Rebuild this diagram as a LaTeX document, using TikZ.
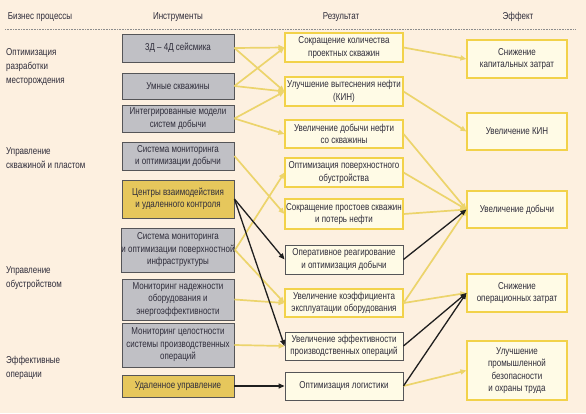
\documentclass[tikz,border=0pt]{standalone}
\usepackage{fontspec}
\setmainfont{Liberation Sans}[FakeStretch=0.8]
\usetikzlibrary{arrows.meta}
\definecolor{bgpeach}{HTML}{FDF0E0}
\definecolor{toolgray}{HTML}{C0C0C5}
\definecolor{toolgold}{HTML}{E6C75C}
\definecolor{toolline}{HTML}{555558}
\definecolor{rescream}{HTML}{FFFBE6}
\definecolor{resline}{HTML}{F2D24A}
\definecolor{arrowgold}{HTML}{ECD46C}
\definecolor{txt}{HTML}{2E2C3A}
\tikzset{
	tool/.style={draw=toolline, fill=toolgray, line width=0.9pt, minimum width=112pt, inner xsep=0pt, inner ysep=1pt, align=center, text=txt},
	toolhot/.style={tool, fill=toolgold},
	result/.style={draw=resline, fill=rescream, line width=1.1pt, minimum width=118pt, inner xsep=0pt, inner ysep=1pt, align=center, text=txt},
	resultdark/.style={result, draw=toolline, line width=0.9pt},
	effect/.style={result, minimum width=100pt},
	process/.style={anchor=west, align=left, text=txt, inner sep=0pt, font=\fontsize{10}{14}\selectfont},
	head/.style={text=txt, inner sep=0pt},
	yarr/.style={-{Triangle[length=6pt,width=5pt]}, draw=arrowgold, line width=1.7pt},
	barr/.style={-{Triangle[length=6pt,width=5pt]}, draw=black!88, line width=1.3pt}
}
\begin{document}
\begin{tikzpicture}[x=1pt, y=-1pt, font=\fontsize{10}{12.5}\selectfont]
	\fill[bgpeach] (0,0) rectangle (586,413);
	\useasboundingbox (0,0) rectangle (586,413);
	%headers
	\node[head] (hproc) at (40, 17) {Бизнес процессы};
	\node[head] (htool) at (178, 17) {Инструменты};
	\node[head] (hres) at (341, 17) {Результат};
	\node[head] (heff) at (518, 17) {Эффект};
	\draw[densely dotted, line width=0.6pt, black!45] (5, 29)--(575, 29);
	%business processes
	\node[process] (p1) at (6, 67) {Оптимизация\\разработки\\месторождения};
	\node[process] (p2) at (6, 158.5) {Управление\\скважиной и пластом};
	\node[process] (p3) at (6, 278.5) {Управление\\обустройством};
	\node[process] (p4) at (6, 367.5) {Эффективные\\операции};
	%tools
	\node[tool, minimum height=28pt] (t1) at (178, 48) {3Д – 4Д сейсмика};
	\node[tool, minimum height=26pt] (t2) at (178, 86) {Умные скважины};
	\node[tool, minimum height=27pt] (t3) at (178, 118.5) {Интегрированные модели\\систем добычи};
	\node[tool, minimum height=28pt] (t4) at (178, 156) {Система мониторинга\\и оптимизации добычи};
	\node[toolhot, minimum height=38pt] (t5) at (178, 199) {Центры взаимодействия\\и удаленного контроля};
	\node[tool, minimum height=44pt] (t6) at (178, 250) {Система мониторинга\\и оптимизации поверхностной\\инфраструктуры};
	\node[tool, minimum height=41pt] (t7) at (178, 299.5) {Мониторинг надежности\\оборудования и\\энергоэффективности};
	\node[tool, minimum height=44pt] (t8) at (178, 345) {Мониторинг целостности\\системы производственных\\операций};
	\node[toolhot, minimum height=22pt] (t9) at (178, 386) {Удаленное управление};
	%results
	\node[result, minimum height=29pt] (r1) at (344, 47.5) {Сокращение количества\\проектных скважин};
	\node[result, minimum height=29pt] (r2) at (344, 91.5) {Улучшение вытеснения нефти\\(КИН)};
	\node[result, minimum height=28pt] (r3) at (344, 134) {Увеличение добычи нефти\\со скважины};
	\node[result, minimum height=29pt] (r4) at (344, 172.5) {Оптимизация поверхностного\\обустройства};
	\node[result, minimum height=30pt] (r5) at (344, 214) {Сокращение простоев скважин\\и потерь нефти};
	\node[resultdark, minimum height=29pt] (r6) at (344, 259.5) {Оперативное реагирование\\и оптимизация добычи};
	\node[result, minimum height=28pt] (r7) at (344, 303) {Увеличение коэффициента\\эксплуатации оборудования};
	\node[resultdark, minimum height=28pt] (r8) at (344, 346) {Увеличение эффективности\\производственных операций};
	\node[resultdark, minimum height=28pt] (r9) at (344, 386) {Оптимизация логистики};
	%effects
	\node[effect, minimum height=38pt] (e1) at (517, 59) {Снижение\\капитальных затрат};
	\node[effect, minimum height=37pt] (e2) at (517, 131.5) {Увеличение КИН};
	\node[effect, minimum height=37pt] (e3) at (517, 209.5) {Увеличение добычи};
	\node[effect, minimum height=38pt] (e4) at (517, 293) {Снижение\\операционных затрат};
	\node[effect, minimum height=59pt] (e5) at (517, 370.5) {Улучшение\\промышленной\\безопасности\\и охраны труда};
	%tools to results
	\foreach \a/\b in {t1/r1, t1/r2, t2/r1, t2/r2, t3/r2, t3/r3, t4/r5, t6/r4, t6/r7, t7/r7, t8/r8}{
		\draw[yarr] (\a.east)--(\b.west);
	}
	\foreach \a/\b in {t5/r6, t5/r8, t9/r9}{
		\draw[barr] (\a.east)--(\b.west);
	}
	%results to effects
	\foreach \a/\b in {r1/e1, r2/e2, r3/e3, r4/e3, r5/e3, r7/e3, r7/e4, r9/e5}{
		\draw[yarr] (\a.east)--(\b.west);
	}
	\foreach \a/\b in {r6/e3, r8/e4, r9/e4}{
		\draw[barr] (\a.east)--(\b.west);
	}
\end{tikzpicture}
\end{document}
